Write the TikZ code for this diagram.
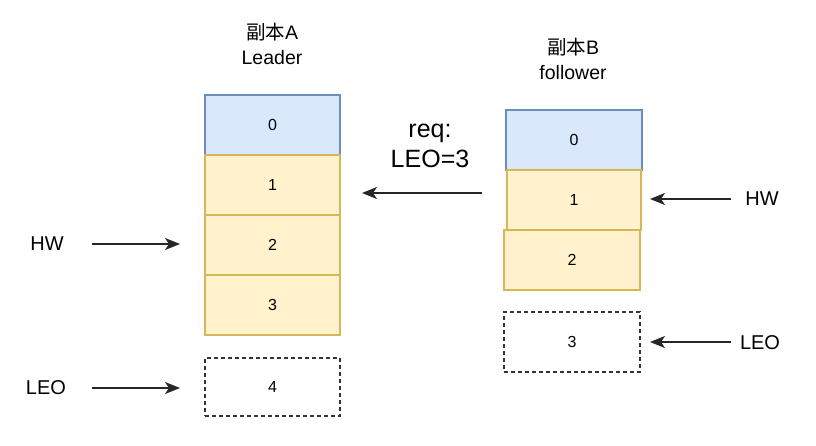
\documentclass[tikz,border=0pt]{standalone}
\usepackage{fontspec}
\setmainfont{Liberation Sans}
\newfontfamily\cjk{Noto Sans CJK SC}
\usetikzlibrary{arrows.meta}
\definecolor{bluefill}{HTML}{DAE8FC}
\definecolor{bluestroke}{HTML}{6C8EBF}
\definecolor{yelfill}{HTML}{FFF2CC}
\definecolor{yelstroke}{HTML}{D6B656}
\definecolor{dashstroke}{HTML}{333333}
\tikzset{
  cell/.style={rectangle, minimum width=135pt, minimum height=60pt, inner sep=0pt, line width=1.4pt, font=\fontsize{16}{19}\selectfont},
  bluecell/.style={cell, fill=bluefill, draw=bluestroke},
  yelcell/.style={cell, fill=yelfill, draw=yelstroke},
  emptycell/.style={cell, draw=dashstroke, dash pattern=on 4pt off 3pt},
  lbl/.style={font=\fontsize{20}{24}\selectfont, inner sep=0pt},
  title/.style={font=\fontsize{19.5}{25}\selectfont, align=center, inner sep=0pt},
  arr/.style={-{Stealth[length=15pt,width=12pt,inset=4pt]}, line width=1.4pt, draw=black!85}
}
\begin{document}
\begin{tikzpicture}[x=1pt,y=-1pt]
\useasboundingbox (0,0) rectangle (816,446);
% Leader column
\node[title] (tA) at (272,44) {{\cjk 副本}A\\Leader};
\node[bluecell] (a0) at (272.5,125) {0};
\node[yelcell] (a1) at (272.5,185) {1};
\node[yelcell] (a2) at (272.5,245) {2};
\node[yelcell] (a3) at (272.5,305) {3};
\node[emptycell, minimum height=58pt] (a4) at (272.5,387) {4};
% Follower column
\node[title] (tB) at (573,59) {{\cjk 副本}B\\follower};
\node[bluecell, minimum width=136pt] (b0) at (574,140) {0};
\node[yelcell, minimum width=134pt] (b1) at (574,200) {1};
\node[yelcell, minimum width=136pt] (b2) at (572,260) {2};
\node[emptycell, minimum width=136pt] (b3) at (572,342) {3};
% labels
\node[lbl] (hwL) at (47,244) {HW};
\node[lbl] (leoL) at (46,388) {LEO};
\node[lbl] (hwR) at (762,199) {HW};
\node[lbl] (leoR) at (760,343) {LEO};
\node[font=\fontsize{25}{30}\selectfont, align=center, inner sep=0pt] (req) at (430,146) {req:\\LEO=3};
% arrow endpoints
\coordinate (hwLs) at (92,244);
\coordinate (hwLe) at (180,244);
\coordinate (leoLs) at (92,388);
\coordinate (leoLe) at (180,388);
\coordinate (hwRs) at (731,199);
\coordinate (hwRe) at (650,199);
\coordinate (leoRs) at (731,342);
\coordinate (leoRe) at (650,342);
\coordinate (reqs) at (482,193);
\coordinate (reqe) at (362,193);
\draw[arr] (hwLs) -- (hwLe);
\draw[arr] (leoLs) -- (leoLe);
\draw[arr] (hwRs) -- (hwRe);
\draw[arr] (leoRs) -- (leoRe);
\draw[arr] (reqs) -- (reqe);
\end{tikzpicture}
\end{document}
